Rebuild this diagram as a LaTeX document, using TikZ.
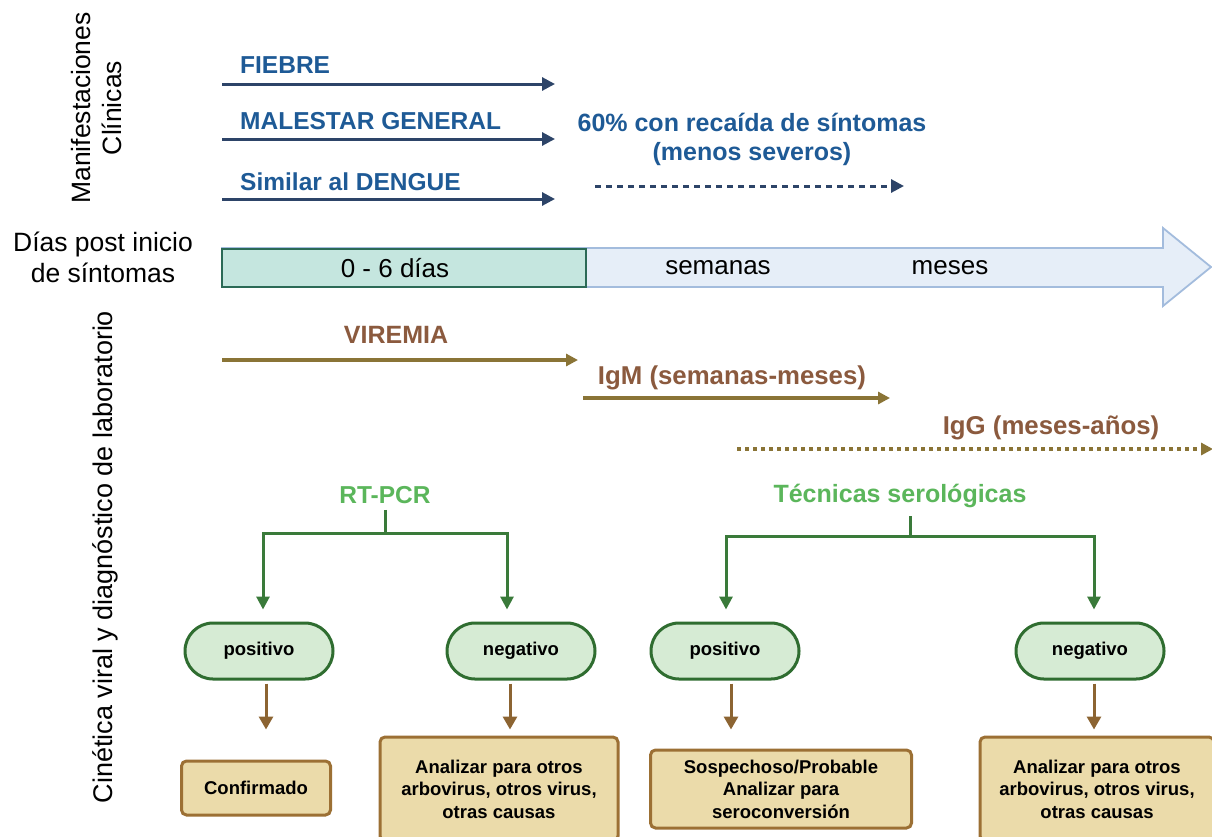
\documentclass[tikz,border=0pt]{standalone}
\usepackage{fontspec}
\setmainfont{Liberation Sans}
\usetikzlibrary{arrows.meta}
\definecolor{bluetxt}{HTML}{1E5A96}
\definecolor{bluearr}{HTML}{2D4468}
\definecolor{browntxt}{HTML}{8B5A3E}
\definecolor{olivearr}{HTML}{8A7436}
\definecolor{greentxt}{HTML}{5BB65B}
\definecolor{greenline}{HTML}{3A7A3A}
\definecolor{pillfill}{HTML}{D6EBD4}
\definecolor{pilldraw}{HTML}{2F6D30}
\definecolor{boxfill}{HTML}{EBDBAA}
\definecolor{boxdraw}{HTML}{9C7034}
\definecolor{brownarr}{HTML}{8C6432}
\definecolor{tlfill}{HTML}{E6EEF8}
\definecolor{tldraw}{HTML}{A3BCDD}
\definecolor{tealfill}{HTML}{C5E6DF}
\definecolor{tealdraw}{HTML}{2B6A56}
\begin{document}
\begin{tikzpicture}[x=1pt,y=-1pt,
  side/.style={font=\fontsize{26.5}{31}\selectfont, align=center, inner sep=0},
  bluelbl/.style={font=\fontsize{24.5}{28}\selectfont\bfseries, text=bluetxt, anchor=base west, inner sep=0},
  bluearrow/.style={draw=bluearr, line width=3pt, -{Triangle[length=13pt,width=13pt]}},
  brownlbl/.style={font=\fontsize{25}{28}\selectfont\bfseries, text=browntxt, anchor=base, inner sep=0},
  olivearrow/.style={draw=olivearr, line width=3.2pt, -{Triangle[length=12pt,width=12pt]}},
  tllbl/.style={font=\fontsize{26}{30}\selectfont, inner sep=0},
  greenlbl/.style={font=\fontsize{24.5}{28}\selectfont\bfseries, text=greentxt, inner sep=0},
  treeline/.style={draw=greenline, line width=3pt},
  treearrow/.style={treeline, -{Triangle[length=13pt,width=13pt]}},
  pill/.style={draw=pilldraw, fill=pillfill, line width=3pt, rounded corners=28pt,
    minimum width=148pt, minimum height=56pt, font=\fontsize{18.5}{22}\selectfont\bfseries},
  resbox/.style={draw=boxdraw, fill=boxfill, line width=3pt, rounded corners=5pt,
    align=center, font=\fontsize{18.5}{22.5}\selectfont\bfseries, inner sep=0},
  brarrow/.style={draw=brownarr, line width=3pt, -{Triangle[length=13pt,width=14pt]}}
]
\clip (0,0) rectangle (1212,836);
\fill[white] (0,0) rectangle (1212,836);

% side labels
\node[side, rotate=90] (manif) at (97,108) {Manifestaciones\\Clínicas};
\node[side] (dias) at (103,257) {Días post inicio\\de síntomas};
\node[side, rotate=90, font=\fontsize{27}{31}\selectfont] (cin) at (105,557) {Cinética viral y diagnóstico de laboratorio};

% clinical manifestations
\node[bluelbl] (fiebre) at (240,73) {FIEBRE};
\node[bluelbl] (malestar) at (240,129) {MALESTAR GENERAL};
\node[bluelbl] (similar) at (240,190) {Similar al DENGUE};
\coordinate (f0) at (222,84);  \coordinate (f1) at (555,84);
\coordinate (m0) at (222,139); \coordinate (m1) at (555,139);
\coordinate (s0) at (222,199); \coordinate (s1) at (555,199);
\draw[bluearrow] (f0) -- (f1);
\draw[bluearrow] (m0) -- (m1);
\draw[bluearrow] (s0) -- (s1);
\node[font=\fontsize{25}{29}\selectfont\bfseries, text=bluetxt, align=center, inner sep=0] (recaida) at (752,139) {60\% con recaída de síntomas\\(menos severos)};
\coordinate (r0) at (595,186); \coordinate (r1) at (904,186);
\draw[bluearrow, dash pattern=on 6pt off 5pt] (r0) -- (r1);

% timeline arrow
\draw[draw=tldraw, fill=tlfill, line width=1.8pt, line join=miter]
  (222,248) -- (1163,248) -- (1163,228) -- (1211,267) -- (1163,306) -- (1163,287) -- (222,287) -- cycle;
\draw[draw=tealdraw, fill=tealfill, line width=2.5pt] (222,249) rectangle (586,287);
\node[tllbl] (d06) at (395,268) {0 - 6 días};
\node[tllbl] (sem) at (718,268) {semanas};
\node[tllbl] (mes) at (950,268) {meses};

% viral kinetics
\node[brownlbl] (vir) at (396,343) {VIREMIA};
\coordinate (v0) at (222,360); \coordinate (v1) at (578,360);
\draw[olivearrow] (v0) -- (v1);
\node[brownlbl, font=\fontsize{25.8}{28}\selectfont\bfseries] (igm) at (732,384) {IgM (semanas-meses)};
\coordinate (g0) at (583,398); \coordinate (g1) at (890,398);
\draw[olivearrow] (g0) -- (g1);
\node[brownlbl, font=\fontsize{25.8}{28}\selectfont\bfseries] (igg) at (1051,434) {IgG (meses-años)};
\coordinate (h0) at (737,449); \coordinate (h1) at (1213,449);
\draw[olivearrow, dash pattern=on 4pt off 4pt] (h0) -- (h1);

% RT-PCR tree
\node[greenlbl] (rt) at (385,495) {RT-PCR};
\coordinate (j1) at (385,533);
\node[pill] (p1) at (259,651) {positivo};
\node[pill] (p2) at (521,651) {negativo};
\draw[treeline] ([yshift=-6pt]rt.south) -- (j1);
\draw[treearrow, shorten >=12pt] (j1) -| ([xshift=4pt]p1.north);
\draw[treearrow, shorten >=12pt] (j1) -| ([xshift=-14pt]p2.north);

% serological tree
\node[greenlbl, font=\fontsize{25}{28}\selectfont\bfseries] (sero) at (900,496) {Técnicas serológicas};
\coordinate (j2) at (910,536);
\node[pill] (p3) at (725,651) {positivo};
\node[pill] (p4) at (1090,651) {negativo};
\draw[treeline] (910,516) -- (j2);
\draw[treearrow, shorten >=12pt] (j2) -| ([xshift=1pt]p3.north);
\draw[treearrow, shorten >=12pt] (j2) -| ([xshift=4pt]p4.north);

% result boxes
\node[resbox, minimum width=149pt, minimum height=54pt] (b1) at (256,788) {Confirmado};
\node[resbox, minimum width=238pt, minimum height=104pt] (b2) at (499,789) {Analizar para otros\\arbovirus, otros virus,\\otras causas};
\node[resbox, minimum width=261pt, minimum height=78pt] (b3) at (781,789) {Sospechoso/Probable\\Analizar para\\seroconversión};
\node[resbox, minimum width=234pt, minimum height=104pt] (b4) at (1097,789) {Analizar para otros\\arbovirus, otros virus,\\otras causas};

\draw[brarrow, shorten <=3pt, shorten >=30pt] ([xshift=7pt]p1.south) -- ([xshift=7pt]p1.south |- b1.north);
\draw[brarrow, shorten <=3pt, shorten >=6pt] ([xshift=-11pt]p2.south) -- ([xshift=-11pt]p2.south |- b2.north);
\draw[brarrow, shorten <=3pt, shorten >=19pt] ([xshift=6pt]p3.south) -- ([xshift=6pt]p3.south |- b3.north);
\draw[brarrow, shorten <=3pt, shorten >=6pt] ([xshift=4pt]p4.south) -- ([xshift=4pt]p4.south |- b4.north);
\end{tikzpicture}
\end{document}
